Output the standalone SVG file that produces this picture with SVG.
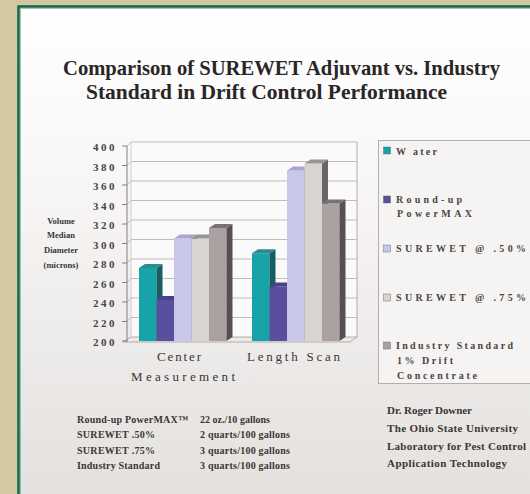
<svg xmlns="http://www.w3.org/2000/svg" width="530" height="494" viewBox="0 0 530 494">
<defs>
<linearGradient id="panelGrad" x1="0" y1="0" x2="0" y2="1">
<stop offset="0" stop-color="#ffffff"/>
<stop offset="0.3" stop-color="#f9f8f8"/>
<stop offset="1" stop-color="#e3e0dd"/>
</linearGradient>
<style>
.t{font-family:"Liberation Serif","Times New Roman",serif;font-weight:bold;fill:#2a2626}
.ax{font-family:"Liberation Serif","Times New Roman",serif;font-weight:bold;font-size:11px;fill:#4a4444;letter-spacing:2.5px}
.cat{font-family:"Liberation Serif","Times New Roman",serif;font-size:13px;fill:#3a3434}
.lg{font-family:"Liberation Serif","Times New Roman",serif;font-weight:bold;font-size:10px;fill:#4a4545}
.note{font-family:"Liberation Serif","Times New Roman",serif;font-weight:bold;font-size:10px;fill:#3a3636}
.auth{font-family:"Liberation Serif","Times New Roman",serif;font-weight:bold;font-size:11px;fill:#3a3636}
.ylab{font-family:"Liberation Serif","Times New Roman",serif;font-weight:bold;font-size:8.5px;fill:#3a3636}
.grid{fill:none;stroke:#c6b8b8;stroke-width:1}
.tick{stroke:#8a7c7c;stroke-width:1}
.wf{fill:#17a4a8}.ws{fill:#175e62}.wt{fill:#2a8c90}
.pf{fill:#5a4f9f}.ps{fill:#362d68}.pt{fill:#4a4088}
.lf{fill:#c8c6ea}.ls{fill:#6e6b8c}.lt{fill:#a8a6cc}
.gf{fill:#d8d4d1}.gs{fill:#6a6464}.gt{fill:#9a9494}
.if{fill:#aaa2a2}.is{fill:#565050}.it{fill:#7a7272}
</style>
</defs>
<rect x="0" y="0" width="530" height="494" fill="#d4c8a1"/>
<rect x="18.5" y="6.5" width="530" height="500" fill="url(#panelGrad)" stroke="#12694f" stroke-width="2.6"/>
<line x1="20.3" y1="8" x2="20.3" y2="494" stroke="#6fa58e" stroke-width="0.8"/>
<line x1="20" y1="8.3" x2="530" y2="8.3" stroke="#6fa58e" stroke-width="0.8"/>

<g id="title">
<text class="t" x="63" y="75" font-size="21" textLength="437" lengthAdjust="spacingAndGlyphs">Comparison of SUREWET Adjuvant vs. Industry</text>
<text class="t" x="86" y="99" font-size="21" textLength="361" lengthAdjust="spacingAndGlyphs">Standard in Drift Control Performance</text>
</g>

<g id="chart-frame">
<rect x="131" y="142" width="226" height="195" fill="#fbfafa"/>
<polygon points="123,342 350,342 357,337 131,337" fill="#ece9e8" stroke="#a89a9a" stroke-width="0.8"/>
<polyline class="grid" points="127,146 131,142 357,142"/>
<polyline class="grid" points="127,165.5 131,161.5 357,161.5"/>
<polyline class="grid" points="127,185 131,181 357,181"/>
<polyline class="grid" points="127,204.5 131,200.5 357,200.5"/>
<polyline class="grid" points="127,224 131,220 357,220"/>
<polyline class="grid" points="127,243.5 131,239.5 357,239.5"/>
<polyline class="grid" points="127,263 131,259 357,259"/>
<polyline class="grid" points="127,282.5 131,278.5 357,278.5"/>
<polyline class="grid" points="127,302 131,298 357,298"/>
<polyline class="grid" points="127,321.5 131,317.5 357,317.5"/>
<line x1="357" y1="142" x2="357" y2="337" stroke="#b8aaaa" stroke-width="1"/>
<line x1="131" y1="142" x2="131" y2="337" stroke="#cfc4c4" stroke-width="0.8"/>
<line x1="127" y1="146" x2="127" y2="342" stroke="#8a7c7c" stroke-width="1"/>
<line class="tick" x1="122" y1="146" x2="127" y2="146"/>
<line class="tick" x1="122" y1="165.5" x2="127" y2="165.5"/>
<line class="tick" x1="122" y1="185" x2="127" y2="185"/>
<line class="tick" x1="122" y1="204.5" x2="127" y2="204.5"/>
<line class="tick" x1="122" y1="224" x2="127" y2="224"/>
<line class="tick" x1="122" y1="243.5" x2="127" y2="243.5"/>
<line class="tick" x1="122" y1="263" x2="127" y2="263"/>
<line class="tick" x1="122" y1="282.5" x2="127" y2="282.5"/>
<line class="tick" x1="122" y1="302" x2="127" y2="302"/>
<line class="tick" x1="122" y1="321.5" x2="127" y2="321.5"/>
<line class="tick" x1="122" y1="341" x2="127" y2="341"/>
</g>

<g id="y-axis-labels">
<text class="ax" x="93" y="151">400</text>
<text class="ax" x="93" y="170.5">380</text>
<text class="ax" x="93" y="190">360</text>
<text class="ax" x="93" y="209.5">340</text>
<text class="ax" x="93" y="229">320</text>
<text class="ax" x="93" y="248.5">300</text>
<text class="ax" x="93" y="268">280</text>
<text class="ax" x="93" y="287.5">260</text>
<text class="ax" x="93" y="307">240</text>
<text class="ax" x="93" y="326.5">220</text>
<text class="ax" x="93" y="346">200</text>
</g>

<g id="y-axis-title" text-anchor="middle">
<text class="ylab" x="61" y="224">Volume</text>
<text class="ylab" x="61" y="238">Median</text>
<text class="ylab" x="61" y="253">Diameter</text>
<text class="ylab" x="61" y="268">(microns)</text>
</g>

<g id="bars">
<g id="center-water">
<rect class="wf" x="139" y="267.9" width="17.5" height="73.1"/>
<polygon class="ws" points="156.5,267.9 162.5,263.9 162.5,337 156.5,341"/>
<polygon class="wt" points="139,267.9 145,263.9 162.5,263.9 156.5,267.9"/>
</g>
<g id="center-roundup">
<rect class="pf" x="156.5" y="300" width="17.5" height="41"/>
<polygon class="ps" points="174,300 180,296 180,337 174,341"/>
<polygon class="pt" points="156.5,300 162.5,296 180,296 174,300"/>
</g>
<g id="center-sw50">
<rect class="lf" x="174" y="238.6" width="17.5" height="102.4"/>
<polygon class="ls" points="191.5,238.6 197.5,234.6 197.5,337 191.5,341"/>
<polygon class="lt" points="174,238.6 180,234.6 197.5,234.6 191.5,238.6"/>
</g>
<g id="center-sw75">
<rect class="gf" x="191.5" y="238.6" width="17.5" height="102.4"/>
<polygon class="gs" points="209,238.6 215,234.6 215,337 209,341"/>
<polygon class="gt" points="191.5,238.6 197.5,234.6 215,234.6 209,238.6"/>
</g>
<g id="center-industry">
<rect class="if" x="209" y="227.9" width="17.5" height="113.1"/>
<polygon class="is" points="226.5,227.9 232.5,223.9 232.5,337 226.5,341"/>
<polygon class="it" points="209,227.9 215,223.9 232.5,223.9 226.5,227.9"/>
</g>
<g id="length-water">
<rect class="wf" x="252" y="253.25" width="17.5" height="87.75"/>
<polygon class="ws" points="269.5,253.25 275.5,249.25 275.5,337 269.5,341"/>
<polygon class="wt" points="252,253.25 258,249.25 275.5,249.25 269.5,253.25"/>
</g>
<g id="length-roundup">
<rect class="pf" x="269.5" y="286.4" width="17.5" height="54.6"/>
<polygon class="ps" points="287,286.4 293,282.4 293,337 287,341"/>
<polygon class="pt" points="269.5,286.4 275.5,282.4 293,282.4 287,286.4"/>
</g>
<g id="length-sw50">
<rect class="lf" x="287" y="170.4" width="17.5" height="170.6"/>
<polygon class="ls" points="304.5,170.4 310.5,166.4 310.5,337 304.5,341"/>
<polygon class="lt" points="287,170.4 293,166.4 310.5,166.4 304.5,170.4"/>
</g>
<g id="length-sw75">
<rect class="gf" x="304.5" y="163.55" width="17.5" height="177.45"/>
<polygon class="gs" points="322,163.55 328,159.55 328,337 322,341"/>
<polygon class="gt" points="304.5,163.55 310.5,159.55 328,159.55 322,163.55"/>
</g>
<g id="length-industry">
<rect class="if" x="322" y="203.5" width="17.5" height="137.5"/>
<polygon class="is" points="339.5,203.5 345.5,199.5 345.5,337 339.5,341"/>
<polygon class="it" points="322,203.5 328,199.5 345.5,199.5 339.5,203.5"/>
</g>
</g>

<g id="category-labels">
<text class="cat" x="157" y="361" textLength="44">Center</text>
<text class="cat" x="131" y="381" textLength="104">Measurement</text>
<text class="cat" x="247" y="361" textLength="93">Length Scan</text>
</g>

<g id="legend">
<rect x="378.5" y="140.5" width="160" height="243" fill="#f5f4f3" stroke="#b5acac" stroke-width="1"/>
<rect x="383.5" y="147" width="7" height="7" fill="#17a4a8" stroke="#555" stroke-width="0.4"/>
<text class="lg" x="396" y="155" textLength="41">W ater</text>
<rect x="383.5" y="196" width="7" height="7" fill="#5a4f9f" stroke="#555" stroke-width="0.4"/>
<text class="lg" x="396" y="203" textLength="66">Round-up</text>
<text class="lg" x="397" y="217" textLength="75">PowerMAX</text>
<rect x="383.5" y="245" width="7" height="7" fill="#c8c6ea" stroke="#555" stroke-width="0.4"/>
<text class="lg" x="396" y="252" textLength="130">SUREWET @ .50%</text>
<rect x="383.5" y="294" width="7" height="7" fill="#d8d4d1" stroke="#555" stroke-width="0.4"/>
<text class="lg" x="396" y="301" textLength="130">SUREWET @ .75%</text>
<rect x="383.5" y="342" width="7" height="7" fill="#aaa2a2" stroke="#555" stroke-width="0.4"/>
<text class="lg" x="396" y="349" textLength="117">Industry Standard</text>
<text class="lg" x="397" y="364" textLength="56">1% Drift</text>
<text class="lg" x="397" y="379" textLength="80">Concentrate</text>
</g>

<g id="rates">
<text class="note" x="77" y="423" textLength="111">Round-up PowerMAX™</text>
<text class="note" x="77" y="438" textLength="78">SUREWET .50%</text>
<text class="note" x="77" y="454" textLength="78">SUREWET .75%</text>
<text class="note" x="77" y="469" textLength="83">Industry Standard</text>
<text class="note" x="200" y="423" textLength="70">22 oz./10 gallons</text>
<text class="note" x="200" y="438" textLength="90">2 quarts/100 gallons</text>
<text class="note" x="200" y="454" textLength="90">3 quarts/100 gallons</text>
<text class="note" x="200" y="469" textLength="90">3 quarts/100 gallons</text>
</g>

<g id="credits">
<text class="auth" x="387" y="414" textLength="85">Dr. Roger Downer</text>
<text class="auth" x="387" y="432" textLength="131">The Ohio State University</text>
<text class="auth" x="387" y="450" textLength="139">Laboratory for Pest Control</text>
<text class="auth" x="387" y="467" textLength="120">Application Technology</text>
</g>
</svg>
